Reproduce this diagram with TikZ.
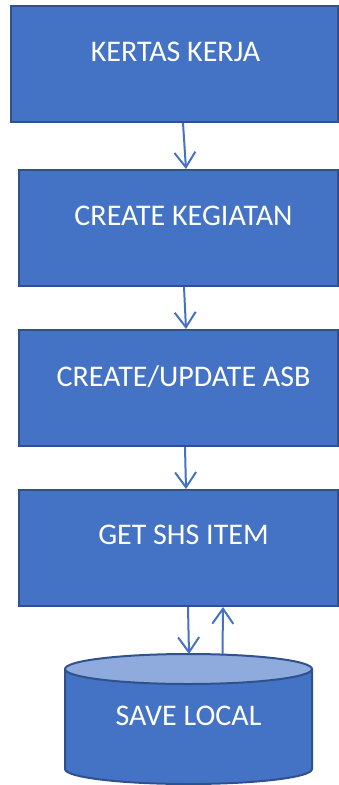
\documentclass[tikz,border=0pt]{standalone}
\usepackage{fontspec}
\setmainfont{Carlito}
\usetikzlibrary{arrows.meta}
\definecolor{boxfill}{HTML}{4472C4}
\definecolor{boxline}{HTML}{2F528F}
\definecolor{capfill}{HTML}{8FAADC}
\begin{document}
\begin{tikzpicture}[x=1pt,y=1pt,
  stepbox/.style={draw=boxline, fill=boxfill, line width=2pt, rectangle,
    minimum height=116pt, inner sep=0pt},
  caption/.style={text=white, font=\fontsize{30}{34}\selectfont, inner sep=0pt},
  arr/.style={draw=boxfill, line width=2pt,
    -{Straight Barb[length=15pt,width=21pt,line width=2pt]}}]
\useasboundingbox (0,0) rectangle (339,-785);

% process boxes
\node[stepbox, minimum width=327pt] (b1) at (174.5,-64) {};
\node[stepbox, minimum width=319pt] (b2) at (178.5,-228) {};
\node[stepbox, minimum width=319pt] (b3) at (178.5,-388) {};
\node[stepbox, minimum width=319pt] (b4) at (178.5,-548) {};

\node[caption] (t1) at (175.5,-52) {KERTAS KERJA};
\node[caption] (t2) at (183.5,-216) {CREATE KEGIATAN};
\node[caption] (t3) at (183.5,-377) {CREATE/UPDATE ASB};
\node[caption] (t4) at (183.5,-535) {GET SHS ITEM};

% storage cylinder
\fill[boxfill] (65,-669) -- (65,-769) arc[start angle=180,end angle=360,x radius=123.5,y radius=15] -- (312,-669) -- cycle;
\draw[boxline, line width=2pt] (65,-669) -- (65,-769) arc[start angle=180,end angle=360,x radius=123.5,y radius=15] -- (312,-669);
\draw[boxline, line width=2pt, fill=capfill] (188.5,-669) ellipse[x radius=123.5,y radius=15];
\coordinate (cyltop) at (188.5,-654);
\node[caption] (t5) at (188.5,-716) {SAVE LOCAL};

% connectors
\draw[arr] ([xshift=8.5pt]b1.south) -- ([xshift=7.5pt]b2.north);
\draw[arr] ([xshift=5.5pt]b2.south) -- ([xshift=7.5pt]b3.north);
\draw[arr] ([xshift=6.5pt]b3.south) -- ([xshift=7.5pt]b4.north);
\draw[arr] ([xshift=9.5pt]b4.south) -- ([xshift=0.5pt]cyltop);
\draw[arr] ([xshift=34pt]cyltop) -- ([xshift=44.5pt]b4.south);
\end{tikzpicture}
\end{document}
